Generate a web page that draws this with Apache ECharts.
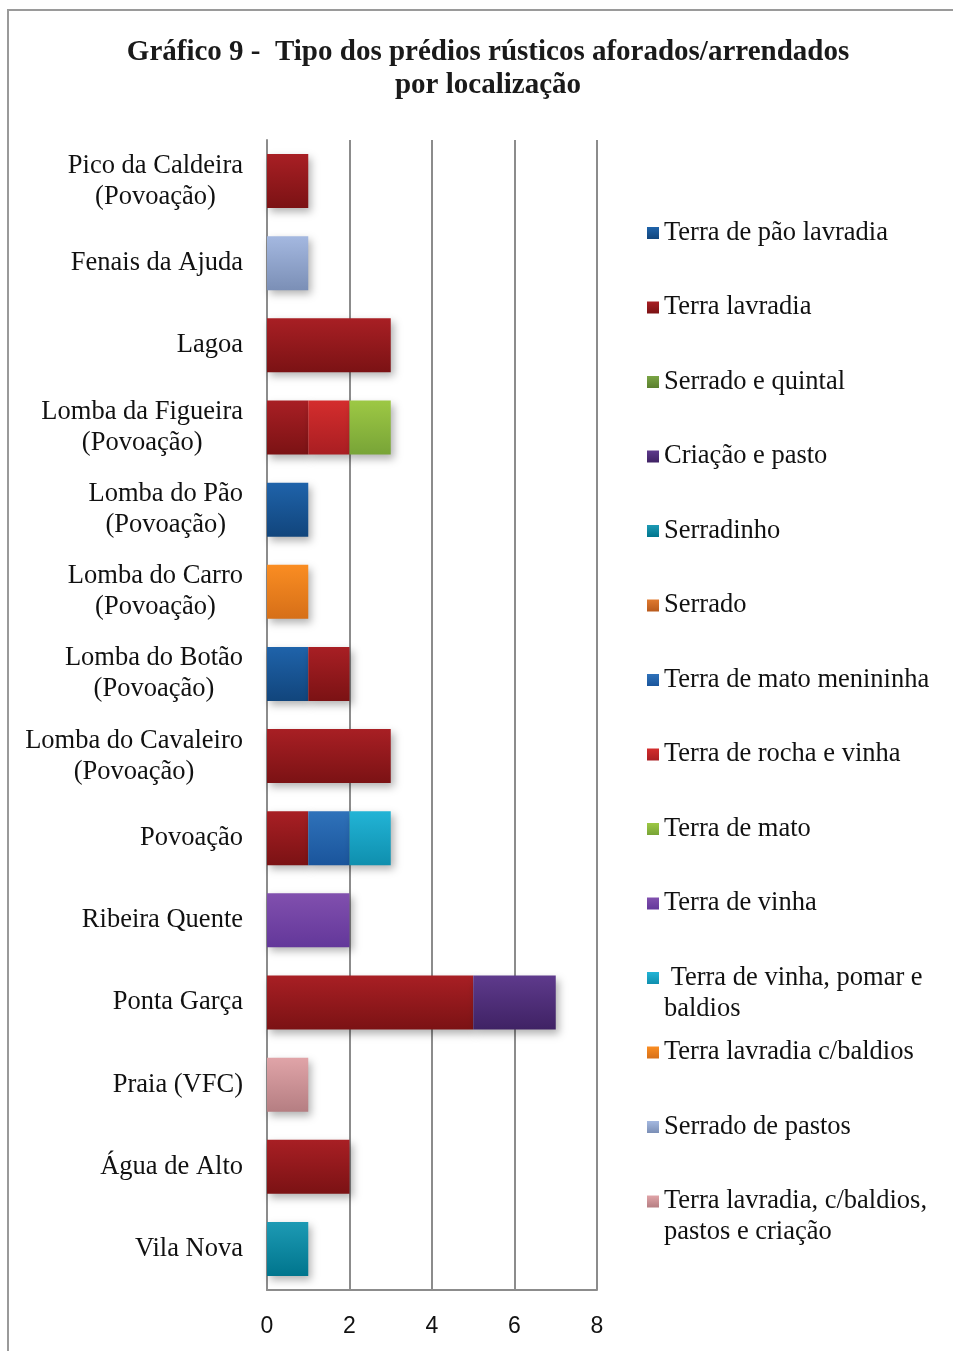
<!DOCTYPE html>
<html>
<head>
<meta charset="UTF-8">
<title>Gráfico 9</title>
<script src="https://cdn.jsdelivr.net/npm/echarts@6/dist/echarts.min.js"></script>
<style>
  html, body { margin: 0; padding: 0; background: #fff; }
  #chart { width: 953px; height: 1351px; }
</style>
</head>
<body>
<div id="chart"></div>
<script>
// categorias (de cima para baixo)
var categorias = [
  'Pico da Caldeira\n(Povoação)', 'Fenais da Ajuda', 'Lagoa', 'Lomba da Figueira\n(Povoação)',
  'Lomba do Pão\n(Povoação)', 'Lomba do Carro\n(Povoação)', 'Lomba do Botão\n(Povoação)',
  'Lomba do Cavaleiro\n(Povoação)', 'Povoação', 'Ribeira Quente', 'Ponta Garça',
  'Praia (VFC)', 'Água de Alto', 'Vila Nova'
];
var eixoX = [0, 2, 4, 6, 8];

// valores por tipo de prédio
var terraPaoLavradia   = [0, 0, 0, 0, 1, 0, 1, 0, 0, 0, 0, 0, 0, 0];
var terraLavradia      = [1, 0, 3, 1, 0, 0, 1, 3, 1, 0, 5, 0, 2, 0];
var serradoQuintal     = [0, 0, 0, 0, 0, 0, 0, 0, 0, 0, 0, 0, 0, 0];
var criacaoPasto       = [0, 0, 0, 0, 0, 0, 0, 0, 0, 0, 2, 0, 0, 0];
var serradinho         = [0, 0, 0, 0, 0, 0, 0, 0, 0, 0, 0, 0, 0, 1];
var serrado            = [0, 0, 0, 0, 0, 0, 0, 0, 0, 0, 0, 0, 0, 0];
var matoMenininha      = [0, 0, 0, 0, 0, 0, 0, 0, 1, 0, 0, 0, 0, 0];
var rochaVinha         = [0, 0, 0, 1, 0, 0, 0, 0, 0, 0, 0, 0, 0, 0];
var terraMato          = [0, 0, 0, 1, 0, 0, 0, 0, 0, 0, 0, 0, 0, 0];
var terraVinha         = [0, 0, 0, 0, 0, 0, 0, 0, 0, 2, 0, 0, 0, 0];
var vinhaPomarBaldios  = [0, 0, 0, 0, 0, 0, 0, 0, 1, 0, 0, 0, 0, 0];
var lavradiaBaldios    = [0, 0, 0, 0, 0, 1, 0, 0, 0, 0, 0, 0, 0, 0];
var serradoPastos      = [0, 1, 0, 0, 0, 0, 0, 0, 0, 0, 0, 0, 0, 0];
var lavradiaPastos     = [0, 0, 0, 0, 0, 0, 0, 0, 0, 0, 0, 1, 0, 0];

var tipos = [
  { nome: 'Terra de pão lavradia', dados: terraPaoLavradia, cor: ['#1f63aa', '#11457c'] },
  { nome: 'Terra lavradia', dados: terraLavradia, cor: ['#a81f24', '#7b1214'] },
  { nome: 'Serrado e quintal', dados: serradoQuintal, cor: ['#7aa545', '#5a7f2e'] },
  { nome: 'Criação e pasto', dados: criacaoPasto, cor: ['#5e3a8c', '#3f2264'] },
  { nome: 'Serradinho', dados: serradinho, cor: ['#1d9ab4', '#00758d'] },
  { nome: 'Serrado', dados: serrado, cor: ['#e07a30', '#b85a1c'] },
  { nome: 'Terra de mato menininha', dados: matoMenininha, cor: ['#2f72ba', '#1a559c'] },
  { nome: 'Terra de rocha e vinha', dados: rochaVinha, cor: ['#d42d2d', '#a91e22'] },
  { nome: 'Terra de mato', dados: terraMato, cor: ['#9dc844', '#78a437'] },
  { nome: 'Terra de vinha', dados: terraVinha, cor: ['#8150ae', '#63379a'] },
  { nome: 'Terra de vinha, pomar e baldios', dados: vinhaPomarBaldios, cor: ['#22b4d6', '#0f8fae'], rotulo: ' Terra de vinha, pomar e\nbaldios' },
  { nome: 'Terra lavradia c/baldios', dados: lavradiaBaldios, cor: ['#fa8d22', '#d66f18'] },
  { nome: 'Serrado de pastos', dados: serradoPastos, cor: ['#a4b8e0', '#7b8fb6'] },
  { nome: 'Terra lavradia, c/baldios, pastos e criação', dados: lavradiaPastos, cor: ['#e0a4a8', '#b57e82'], rotulo: 'Terra lavradia, c/baldios,\npastos e criação' }
];

var serif = '"Liberation Serif", "Times New Roman", serif';

function gradiente(c) {
  return new echarts.graphic.LinearGradient(0, 0, 0, 1, [
    { offset: 0, color: c[0] }, { offset: 1, color: c[1] }
  ]);
}

var series = [];
var legendas = [];
var yLegenda = 233;
for (var i = 0; i < tipos.length; i++) {
  var t = tipos[i];
  series.push({
    name: t.nome,
    type: 'bar',
    stack: 'total',
    barWidth: 54,
    itemStyle: {
      color: gradiente(t.cor),
      shadowBlur: 8,
      shadowOffsetX: 3,
      shadowOffsetY: 4,
      shadowColor: 'rgba(0,0,0,0.3)'
    },
    data: t.dados.map(function(v) { return v || null; })
  });
  // rótulo em duas linhas: linha vazia no topo para o marcador ficar na 1ª linha
  var duasLinhas = !!t.rotulo;
  var alt = duasLinhas ? 93 : 31;
  legendas.push({
    data: [t.nome],
    left: 647,
    top: yLegenda - alt / 2,
    padding: 0,
    itemWidth: 12,
    itemHeight: 12,
    itemGap: 0,
    icon: 'rect',
    itemStyle: { shadowBlur: 0, shadowColor: 'transparent' },
    formatter: (function(r) { return function(n) { return r ? ' \n' + r : n; }; })(t.rotulo),
    textStyle: { fontFamily: serif, fontSize: 26.5, lineHeight: 31, color: '#111' },
    selectedMode: false
  });
  yLegenda += 74.5;
}

var chart = echarts.init(document.getElementById('chart'));
chart.setOption({
  backgroundColor: '#fff',
  animation: false,
  title: {
    text: 'Gráfico 9 -  Tipo dos prédios rústicos aforados/arrendados\npor localização',
    left: 483,
    top: 31,
    textAlign: 'center',
    textStyle: {
      fontFamily: serif, fontWeight: 'bold', fontSize: 29, lineHeight: 33, color: '#1a1a1a'
    }
  },
  graphic: [{
    type: 'rect',
    shape: { x: 8, y: 10, width: 1000, height: 1400 },
    style: { fill: 'none', stroke: '#9a9a9a', lineWidth: 2 },
    silent: true
  }],
  legend: legendas,
  grid: { left: 267, right: 356, top: 140, bottom: 61 },
  xAxis: {
    type: 'value',
    min: eixoX[0],
    max: eixoX[eixoX.length - 1],
    interval: 2,
    axisLine: { show: true, lineStyle: { color: '#8c8c8c', width: 2 } },
    axisTick: { show: false },
    axisLabel: {
      margin: 25,
      fontFamily: '"Liberation Sans", Arial, sans-serif',
      fontSize: 23,
      color: '#111'
    },
    splitLine: { show: true, lineStyle: { color: '#8c8c8c', width: 2 } }
  },
  yAxis: {
    type: 'category',
    inverse: true,
    data: categorias,
    axisLine: { show: true, lineStyle: { color: '#8c8c8c', width: 2 } },
    axisTick: { show: false },
    axisLabel: {
      margin: 24,
      align: 'right',
      formatter: function(v) {
        return v.split('\n').map(function(l) { return '{c|' + l + '}'; }).join('\n');
      },
      rich: {
        c: { align: 'center', fontFamily: serif, fontSize: 26.5, lineHeight: 31, color: '#111' }
      }
    }
  },
  series: series
});
</script>
</body>
</html>
